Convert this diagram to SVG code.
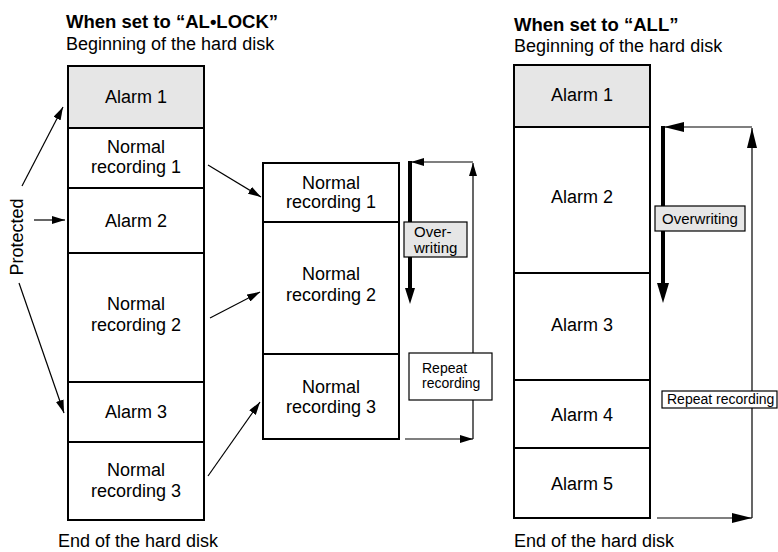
<svg xmlns="http://www.w3.org/2000/svg" width="778" height="552" viewBox="0 0 778 552">
<style>
text{font-family:"Liberation Sans",Arial,Helvetica,sans-serif;fill:#000}
.t{font-size:18px}
.h{font-size:18.5px;font-weight:bold}
.c{text-anchor:middle}
.box{fill:#fff;stroke:#000;stroke-width:2}
.gray{fill:#e6e6e6}
.div{stroke:#000;stroke-width:2}
.ln{stroke:#000;stroke-width:1.2;fill:none}
.thick{stroke:#000;stroke-width:4;fill:none}
.lab{stroke:#000;stroke-width:1.2}
.s15{font-size:15px}
.s14{font-size:14px}
</style>
<defs>
<marker id="a" markerUnits="userSpaceOnUse" markerWidth="13" markerHeight="8" refX="13" refY="4" orient="auto"><path d="M0,0 L13,4 L0,8 z" fill="#000"/></marker>
<marker id="A" markerUnits="userSpaceOnUse" markerWidth="20" markerHeight="10" refX="20" refY="5" orient="auto"><path d="M0,0 L20,5 L0,10 z" fill="#000"/></marker>
<marker id="T" markerUnits="userSpaceOnUse" markerWidth="16" markerHeight="10" refX="0" refY="5" orient="auto"><path d="M0,0 L16,5 L0,10 z" fill="#000"/></marker>
<marker id="T2" markerUnits="userSpaceOnUse" markerWidth="20" markerHeight="12" refX="0" refY="6" orient="auto"><path d="M0,0 L20,6 L0,12 z" fill="#000"/></marker>
</defs>

<g id="titles">
<text class="h" x="66" y="28">When set to “AL•LOCK”</text>
<text class="t" x="66" y="50">Beginning of the hard disk</text>
<text class="t" x="58" y="547">End of the hard disk</text>
<text class="h" x="514" y="31">When set to “ALL”</text>
<text class="t" x="514" y="52">Beginning of the hard disk</text>
<text class="t" x="514" y="547">End of the hard disk</text>
</g>

<g id="protected">
<text class="t c" transform="translate(23,237) rotate(-90)">Protected</text>
</g>

<g id="left-column">
<rect class="box" x="68" y="66" width="136" height="454"/>
<rect class="gray" x="69" y="67" width="134" height="61"/>
<line class="div" x1="68" y1="128" x2="204" y2="128"/>
<line class="div" x1="68" y1="188" x2="204" y2="188"/>
<line class="div" x1="68" y1="253" x2="204" y2="253"/>
<line class="div" x1="68" y1="382" x2="204" y2="382"/>
<line class="div" x1="68" y1="442" x2="204" y2="442"/>
<g id="l-alarm1"><text class="t c" x="136" y="103">Alarm 1</text></g>
<g id="l-normal1"><text class="t c" x="136" y="153">Normal</text><text class="t c" x="136" y="173">recording 1</text></g>
<g id="l-alarm2"><text class="t c" x="136" y="227">Alarm 2</text></g>
<g id="l-normal2"><text class="t c" x="136" y="310">Normal</text><text class="t c" x="136" y="331">recording 2</text></g>
<g id="l-alarm3"><text class="t c" x="136" y="418">Alarm 3</text></g>
<g id="l-normal3"><text class="t c" x="136" y="476">Normal</text><text class="t c" x="136" y="497">recording 3</text></g>
</g>

<g id="middle-column">
<rect class="box" x="263" y="163" width="136" height="276"/>
<line class="div" x1="263" y1="222" x2="399" y2="222"/>
<line class="div" x1="263" y1="354" x2="399" y2="354"/>
<g id="m-normal1"><text class="t c" x="331" y="189">Normal</text><text class="t c" x="331" y="208">recording 1</text></g>
<g id="m-normal2"><text class="t c" x="331" y="280">Normal</text><text class="t c" x="331" y="301">recording 2</text></g>
<g id="m-normal3"><text class="t c" x="331" y="393">Normal</text><text class="t c" x="331" y="413">recording 3</text></g>
</g>

<g id="right-column">
<rect class="box" x="514" y="65" width="136" height="453"/>
<rect class="gray" x="515" y="66" width="134" height="61"/>
<line class="div" x1="514" y1="127" x2="650" y2="127"/>
<line class="div" x1="514" y1="273" x2="650" y2="273"/>
<line class="div" x1="514" y1="380" x2="650" y2="380"/>
<line class="div" x1="514" y1="448" x2="650" y2="448"/>
<g id="r-alarm1"><text class="t c" x="582" y="101">Alarm 1</text></g>
<g id="r-alarm2"><text class="t c" x="582" y="203">Alarm 2</text></g>
<g id="r-alarm3"><text class="t c" x="582" y="331">Alarm 3</text></g>
<g id="r-alarm4"><text class="t c" x="582" y="421">Alarm 4</text></g>
<g id="r-alarm5"><text class="t c" x="582" y="490">Alarm 5</text></g>
</g>

<g id="connectors">
<line class="ln" x1="22" y1="186" x2="63" y2="107" marker-end="url(#a)"/>
<line class="ln" x1="34" y1="220" x2="65" y2="220" marker-end="url(#a)"/>
<line class="ln" x1="19" y1="283" x2="64" y2="413" marker-end="url(#a)"/>
<line class="ln" x1="208" y1="165" x2="261" y2="197" marker-end="url(#a)"/>
<line class="ln" x1="210" y1="318" x2="260" y2="292" marker-end="url(#a)"/>
<line class="ln" x1="208" y1="476" x2="260" y2="402" marker-end="url(#a)"/>

<line class="ln" x1="405" y1="439" x2="473" y2="439" marker-end="url(#a)"/>
<line class="ln" x1="473" y1="439" x2="473" y2="163" marker-end="url(#a)"/>
<line class="ln" x1="473" y1="162" x2="411" y2="162" marker-end="url(#a)"/>
<line class="thick" x1="410" y1="161" x2="410" y2="288" marker-end="url(#T)"/>

<line class="ln" x1="657" y1="518" x2="752" y2="518" marker-end="url(#A)"/>
<line class="ln" x1="752" y1="518" x2="752" y2="128" marker-end="url(#A)"/>
<line class="ln" x1="752" y1="127" x2="664" y2="127" marker-end="url(#A)"/>
<line class="thick" x1="663" y1="126" x2="663" y2="283" marker-end="url(#T2)"/>
</g>

<g id="label-overwriting-mid">
<rect class="lab gray" x="404" y="222" width="63" height="35"/>
<text class="s15" x="414" y="237">Over-</text>
<text class="s15" x="414" y="253">writing</text>
</g>
<g id="label-repeat-mid">
<rect class="lab" fill="#fff" x="409" y="353" width="83" height="47"/>
<text class="s14" x="422" y="373">Repeat</text>
<text class="s14" x="422" y="388">recording</text>
</g>
<g id="label-overwriting-right">
<rect class="lab gray" x="655" y="206" width="90" height="25"/>
<text class="s15 c" x="700" y="224">Overwriting</text>
</g>
<g id="label-repeat-right">
<rect class="lab" fill="#fff" x="662" y="391" width="115" height="17"/>
<text class="s14" x="667" y="404">Repeat recording</text>
</g>
</svg>
